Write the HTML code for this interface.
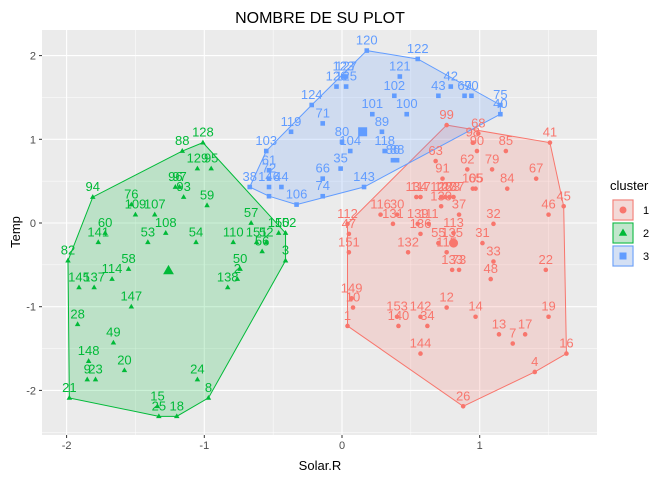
<!DOCTYPE html>
<html><head><meta charset="utf-8"><style>
body{margin:0;background:#fff;}
svg{font-family:"Liberation Sans",sans-serif;}
</style></head><body>
<svg id="chart" width="672" height="480" xmlns="http://www.w3.org/2000/svg">
<text x="320" y="23" text-anchor="middle" font-size="16" fill="#000">NOMBRE DE SU PLOT</text>
<g id="panel"></g>
<text x="320" y="470" text-anchor="middle" font-size="13" fill="#000">Solar.R</text>
<text x="20" y="232" text-anchor="middle" font-size="13" fill="#000" transform="rotate(-90 20 232)">Temp</text>
<g id="legend"></g>
</svg>
<script>
const xTicks=[-2,-1,0,1];
const yTicks=[-2,-1,0,1,2];
const g1Id=["128","88","129","95","96","97","93","94","76","109","107","59","57","150","152","60","141","53","108","54","110","151","52","56","3","82","58","114","145","137","50","2","138","147","28","49","148","20","9","23","24","21","8","15","25","18"];
const g1X=[-1.01,-1.16,-1.05,-0.95,-1.21,-1.18,-1.15,-1.81,-1.53,-1.50,-1.36,-0.98,-0.66,-0.46,-0.41,-1.72,-1.77,-1.41,-1.28,-1.06,-0.79,-0.62,-0.55,-0.58,-0.41,-1.99,-1.55,-1.67,-1.91,-1.80,-0.74,-0.76,-0.83,-1.53,-1.92,-1.66,-1.84,-1.58,-1.85,-1.79,-1.05,-1.98,-0.97,-1.34,-1.33,-1.20];
const g1Y=[0.96,0.86,0.65,0.65,0.43,0.43,0.31,0.31,0.22,0.10,0.10,0.21,0.00,-0.12,-0.12,-0.12,-0.23,-0.23,-0.12,-0.23,-0.23,-0.23,-0.23,-0.34,-0.45,-0.45,-0.55,-0.67,-0.77,-0.77,-0.55,-0.67,-0.77,-1.00,-1.21,-1.43,-1.65,-1.76,-1.87,-1.87,-1.87,-2.09,-2.09,-2.19,-2.31,-2.31];
const g2Id=["120","122","121","123","127","126","125","102","43","42","69","70","75","40","124","101","100","71","89","119","80","104","118","86","88","35","103","61","72","38","44","146","","106","66","74","143"];
const g2X=[0.18,0.55,0.42,0.01,0.03,-0.04,0.03,0.38,0.70,0.79,0.89,0.94,1.15,1.15,-0.22,0.22,0.47,-0.14,0.29,-0.37,0.00,0.06,0.31,0.37,0.40,-0.01,-0.55,-0.53,-0.53,-0.67,-0.44,-0.53,-0.53,-0.33,-0.14,-0.14,0.16];
const g2Y=[2.06,1.96,1.75,1.75,1.75,1.63,1.63,1.52,1.52,1.63,1.52,1.52,1.41,1.30,1.41,1.30,1.30,1.19,1.09,1.09,0.97,0.86,0.86,0.75,0.75,0.65,0.86,0.63,0.53,0.43,0.43,0.43,0.32,0.22,0.53,0.32,0.43];
const g3Id=["99","68","98","90","85","41","63","91","62","79","105","65","84","67","134","117","128","127","123","137","130","37","45","116","30","46","32","112","131","139","111","113","47","136","55","31","151","132","115","135","33","133","73","22","48","149","10","12","153","142","14","19","1","140","34","13","17","7","144","16","4","26"];
const g3X=[0.76,0.99,0.95,0.98,1.19,1.51,0.68,0.73,0.91,1.09,0.95,0.97,1.20,1.41,0.54,0.57,0.72,0.75,0.78,0.81,0.72,0.85,1.61,0.28,0.40,1.50,1.10,0.04,0.37,0.55,0.63,0.81,0.05,0.57,0.70,1.02,0.05,0.48,0.76,0.80,1.10,0.80,0.85,1.48,1.08,0.07,0.08,0.76,0.40,0.57,0.97,1.50,0.04,0.41,0.62,1.14,1.33,1.24,0.57,1.63,1.40,0.88];
const g3Y=[1.17,1.07,0.96,0.86,0.86,0.96,0.74,0.53,0.64,0.64,0.41,0.41,0.41,0.53,0.31,0.31,0.31,0.31,0.31,0.31,0.20,0.10,0.20,0.10,0.10,0.10,-0.01,-0.01,-0.01,-0.01,-0.01,-0.12,-0.13,-0.13,-0.24,-0.24,-0.35,-0.35,-0.35,-0.24,-0.46,-0.56,-0.56,-0.56,-0.67,-0.90,-1.01,-1.01,-1.12,-1.12,-1.12,-1.12,-1.23,-1.23,-1.23,-1.33,-1.33,-1.44,-1.56,-1.56,-1.78,-2.19];
const centerX=[0.81,-1.26,0.15];
const centerY=[-0.24,-0.57,1.09];

const NS="http://www.w3.org/2000/svg";
const L=42,R=597,T=30,B=435;
const sx=v=>342+v*137.7, sy=v=>223-v*83.7;
const xmin=(L-342)/137.7,xmax=(R-342)/137.7,ymax=(223-T)/83.7,ymin=(223-B)/83.7;
function mk(t,a,p){const e=document.createElementNS(NS,t);for(const k in a)e.setAttribute(k,a[k]);(p||panel).appendChild(e);return e;}
const panel=document.getElementById('panel');
const svg=document.getElementById('chart');
let bg=mk('rect',{x:L,y:T,width:R-L,height:B-T,fill:'#EBEBEB'});


for(let v=Math.ceil(xmin*2)/2;v<=xmax;v+=0.5){const major=Number.isInteger(v);
 let l=mk('line',{x1:sx(v),x2:sx(v),y1:T,y2:B,stroke:'#fff','stroke-width':major?1.1:0.5});
 }
for(let v=Math.ceil(ymin*2)/2;v<=ymax;v+=0.5){const major=Number.isInteger(v);
 let l=mk('line',{x1:L,x2:R,y1:sy(v),y2:sy(v),stroke:'#fff','stroke-width':major?1.1:0.5});
 }
xTicks.forEach(v=>{mk('line',{x1:sx(v),x2:sx(v),y1:B,y2:B+3,stroke:'#333'},svg);
 let t=mk('text',{x:sx(v),y:B+14,'text-anchor':'middle','font-size':11,fill:'#4D4D4D'},svg);t.textContent=v;
 });
yTicks.forEach(v=>{mk('line',{x1:L-3,x2:L,y1:sy(v),y2:sy(v),stroke:'#333'},svg);
 let t=mk('text',{x:L-6,y:sy(v)+4,'text-anchor':'end','font-size':11,fill:'#4D4D4D'},svg);t.textContent=v;
 });

function hull(P){P=P.slice().sort((a,b)=>a[0]-b[0]||a[1]-b[1]);const cr=(o,a,b)=>(a[0]-o[0])*(b[1]-o[1])-(a[1]-o[1])*(b[0]-o[0]);
 const lo=[],up=[];for(const p of P){while(lo.length>=2&&cr(lo[lo.length-2],lo[lo.length-1],p)<=0)lo.pop();lo.push(p);}
 for(let i=P.length-1;i>=0;i--){const p=P[i];while(up.length>=2&&cr(up[up.length-2],up[up.length-1],p)<=0)up.pop();up.push(p);}
 up.pop();lo.pop();return lo.concat(up);}
const cols=['#F8766D','#00BA38','#619CFF'];
const sets=[[g3Id,g3X,g3Y],[g1Id,g1X,g1Y],[g2Id,g2X,g2Y]];
function shape(k,x,y,s,col,par){
 if(k==0)return mk('circle',{cx:x,cy:y,r:s,fill:col},par);
 if(k==1)return mk('polygon',{points:`${x},${y-s*1.3} ${x-s*1.2},${y+s*0.8} ${x+s*1.2},${y+s*0.8}`,fill:col},par);
 return mk('rect',{x:x-s,y:y-s,width:2*s,height:2*s,fill:col},par);}
sets.forEach((S,k)=>{const P=S[1].map((v,i)=>[sx(v),sy(S[2][i])]);const H=hull(P);
 let h=mk('polygon',{points:H.map(p=>p.join(',')).join(' '),fill:cols[k],'fill-opacity':0.2,stroke:cols[k],'stroke-width':1});
 });
sets.forEach((S,k)=>{S[1].forEach((v,i)=>{
 let p=shape(k,sx(v),sy(S[2][i]),2.3,cols[k]);
 
 if(S[0][i]){let t=mk('text',{x:sx(v),y:sy(S[2][i])-6,'text-anchor':'middle','font-size':13,fill:cols[k]});t.textContent=S[0][i];
 }
 });
 let c=shape(k,sx(centerX[k]),sy(centerY[k]),4.5,cols[k]);
 });
const lg=document.getElementById('legend');
let lt=mk('text',{x:610,y:190,'font-size':13,fill:'#000'},lg);lt.textContent='cluster';

['1','2','3'].forEach((n,k)=>{const y0=199+k*23;
 let r=mk('rect',{x:612,y:y0,width:22,height:22,fill:'#F2F2F2'},lg);
 
 mk('rect',{x:613,y:y0+1,width:20,height:20,fill:cols[k],'fill-opacity':0.2,stroke:cols[k]},lg);
 shape(k,623,y0+11,3.5,cols[k],lg);
 let t=mk('text',{x:643,y:y0+15,'font-size':11,fill:'#000'},lg);t.textContent=n;
 });
</script>
</body></html>
